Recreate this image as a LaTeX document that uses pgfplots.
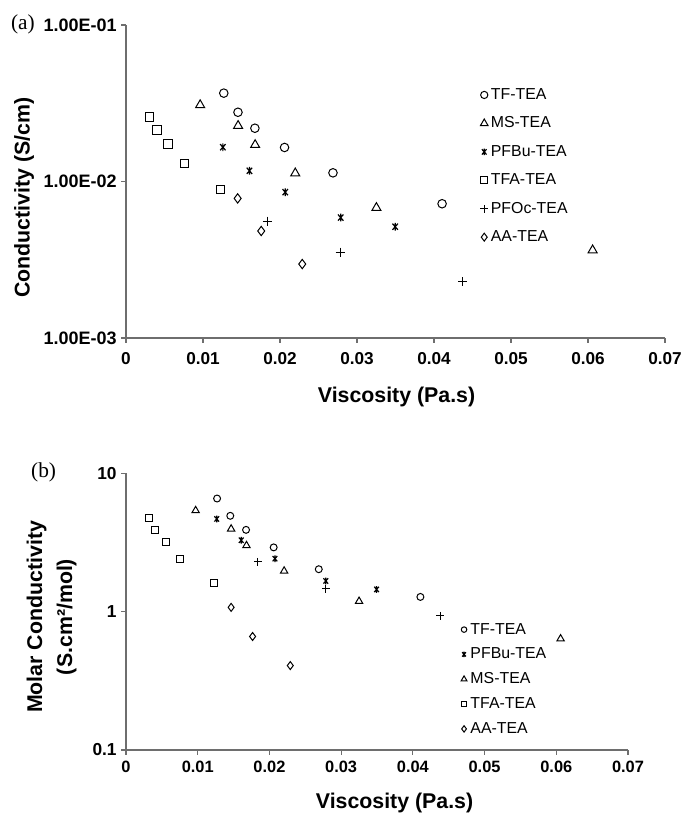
\documentclass[border=0pt]{standalone}
\usepackage{fontspec}
\setmainfont{Liberation Sans}
\newfontfamily\seriffont{Liberation Serif}
\usepackage{pgfplots}
\pgfplotsset{compat=1.18}
\definecolor{axgray}{RGB}{110,110,110}
\pgfdeclareplotmark{xstar}{%
  \pgfpathmoveto{\pgfqpoint{0pt}{\pgfplotmarksize}}%
  \pgfpathlineto{\pgfqpoint{0pt}{-\pgfplotmarksize}}%
  \pgfpathmoveto{\pgfqpoint{-0.7\pgfplotmarksize}{0.8\pgfplotmarksize}}%
  \pgfpathlineto{\pgfqpoint{0.7\pgfplotmarksize}{-0.8\pgfplotmarksize}}%
  \pgfpathmoveto{\pgfqpoint{-0.7\pgfplotmarksize}{-0.8\pgfplotmarksize}}%
  \pgfpathlineto{\pgfqpoint{0.7\pgfplotmarksize}{0.8\pgfplotmarksize}}%
  \pgfusepathqstroke}
\pgfplotsset{
  myaxisstyle/.style={
    scale only axis,
    axis lines=left,
    axis line style={-, draw=axgray, line width=0.9pt},
    tick style={draw=axgray, line width=0.9pt},
    tick align=outside,
    major tick length=3.5pt,
    xmin=0, xmax=0.07,
    scaled x ticks=false,
    xtick={0,0.01,0.02,0.03,0.04,0.05,0.06,0.07},
    xticklabels={0,0.01,0.02,0.03,0.04,0.05,0.06,0.07},
    label style={font=\fontsize{16}{19}\selectfont\bfseries},
    clip=false,
    legend cell align=left,
    every axis plot/.append style={/tikz/only marks, black, line width=0.75pt},
  },
}
\begin{document}
\begin{tikzpicture}
\path[use as bounding box] (0,0) rectangle (512.25pt,610.5pt);

% ---------- (a) ----------
\begin{axis}[ymode=log, myaxisstyle, yminorticks=false,
  at={(94.5pt,357pt)}, anchor=south west,
  width=404.25pt, height=234.75pt,
  ymin=0.001, ymax=0.1,
  ytick={0.001,0.01,0.1},
  yticklabels={1.00E-03,1.00E-02,1.00E-01},
  xticklabel style={font=\fontsize{12.9}{15}\selectfont\bfseries, yshift=-3.5pt},
  yticklabel style={font=\fontsize{13.5}{15}\selectfont\bfseries},
  xlabel={Viscosity (Pa.s)},
  ylabel={Conductivity (S/cm)},
  xlabel style={at={(axis description cs:0.502,-0.1885)}, anchor=center},
  ylabel style={at={(axis description cs:-0.189,0.449)}, anchor=center},
  legend image code/.code={\draw[#1,/tikz/only marks,mark options={scale=0.85}] plot coordinates {(0pt,0pt)};},
  legend style={draw=none, fill=none, at={(axis description cs:0.657,0.8044)}, anchor=north west,
    font=\fontsize{11.9}{14}\selectfont, row sep=8.6pt, inner sep=0pt,
    nodes={inner xsep=0.3pt, inner ysep=1.5pt},
    /tikz/every odd column/.append style={column sep=1.8pt}},
]
\addplot[mark=o, mark size=3.2pt] coordinates {(0.0127,0.0367) (0.01454,0.0277) (0.01674,0.0219) (0.02059,0.0165) (0.02688,0.01136) (0.04105,0.00721)};
\addlegendentry{TF-TEA}
\addplot[mark=triangle, mark size=3.9pt] coordinates {(0.00963,0.0308) (0.01456,0.0227) (0.01677,0.01714) (0.02198,0.01129) (0.03252,0.00679) (0.0606,0.00364)};
\addlegendentry{MS-TEA}
\addplot[mark=xstar, mark size=2.9pt, line width=0.9pt] coordinates {(0.01258,0.01656) (0.01603,0.0117) (0.02068,0.00855) (0.02788,0.00588) (0.03496,0.00514)};
\addlegendentry{PFBu-TEA}
\addplot[mark=square, mark size=3.1pt] coordinates {(0.00306,0.0258) (0.00402,0.0213) (0.00544,0.01738) (0.00759,0.01302) (0.01224,0.00885)};
\addlegendentry{TFA-TEA}
\addplot[mark=+, mark size=3.4pt] coordinates {(0.01836,0.00558) (0.02782,0.00353) (0.04374,0.00229)};
\addlegendentry{PFOc-TEA}
\addplot[mark=diamond, mark size=3.5pt] coordinates {(0.0145,0.0078) (0.01756,0.00483) (0.02289,0.00297)};
\addlegendentry{AA-TEA}
\end{axis}
\node[font=\seriffont\fontsize{16}{18}\selectfont] at (17.2pt,592.5pt) {(a)};

% ---------- (b) ----------
\begin{axis}[ymode=log, myaxisstyle, yminorticks=false,
  at={(94.5pt,48pt)}, anchor=south west,
  width=376.5pt, height=207.4pt,
  ymin=0.1, ymax=10,
  ytick={0.1,1,10},
  yticklabels={0.1,1,10},
  xticklabel style={font=\fontsize{12.3}{14}\selectfont\bfseries, yshift=-1.5pt},
  yticklabel style={font=\fontsize{13}{15}\selectfont\bfseries},
  xlabel={Viscosity (Pa.s)},
  ylabel={Molar Conductivity\\[3.5pt](S.cm²/mol)},
  xlabel style={at={(axis description cs:0.535,-0.1917)}, anchor=center},
  ylabel style={at={(axis description cs:-0.148,0.481)}, anchor=center, align=center},
  legend image code/.code={\draw[#1,/tikz/only marks,mark options={scale=0.8}] plot coordinates {(0pt,0pt)};},
  legend style={draw=none, fill=none, at={(axis description cs:0.667,0.4655)}, anchor=north west,
    font=\fontsize{11.9}{14}\selectfont, row sep=6.5pt, inner sep=0pt,
    nodes={inner xsep=0.3pt, inner ysep=1.2pt},
    /tikz/every odd column/.append style={column sep=2.3pt}},
]
\addplot[mark=o, mark size=2.6pt] coordinates {(0.0127,6.59) (0.01454,4.94) (0.01674,3.91) (0.02059,2.92) (0.02688,2.03) (0.04105,1.28)};
\addlegendentry{TF-TEA}
\addplot[mark=xstar, mark size=2.5pt, line width=0.9pt] coordinates {(0.01265,4.69) (0.01607,3.29) (0.02077,2.42) (0.02786,1.67) (0.03494,1.45)};
\addlegendentry{PFBu-TEA}
\addplot[mark=triangle, mark size=3.2pt] coordinates {(0.00971,5.39) (0.01466,3.97) (0.0168,3.01) (0.02205,1.97) (0.0325,1.19) (0.0606,0.637)};
\addlegendentry{MS-TEA}
\addplot[mark=square, mark size=2.6pt] coordinates {(0.00324,4.78) (0.00409,3.93) (0.00556,3.21) (0.00757,2.41) (0.01228,1.62)};
\addlegendentry{TFA-TEA}
\addplot[mark=diamond, mark size=3pt] coordinates {(0.01466,1.075) (0.01765,0.662) (0.02291,0.408)};
\addlegendentry{AA-TEA}
\addplot[mark=+, mark size=3pt, forget plot] coordinates {(0.01839,2.29) (0.02786,1.47) (0.0438,0.935)};
\end{axis}
\node[font=\seriffont\fontsize{16}{18}\selectfont] at (32.7pt,256.5pt) {(b)};
\end{tikzpicture}
\end{document}
